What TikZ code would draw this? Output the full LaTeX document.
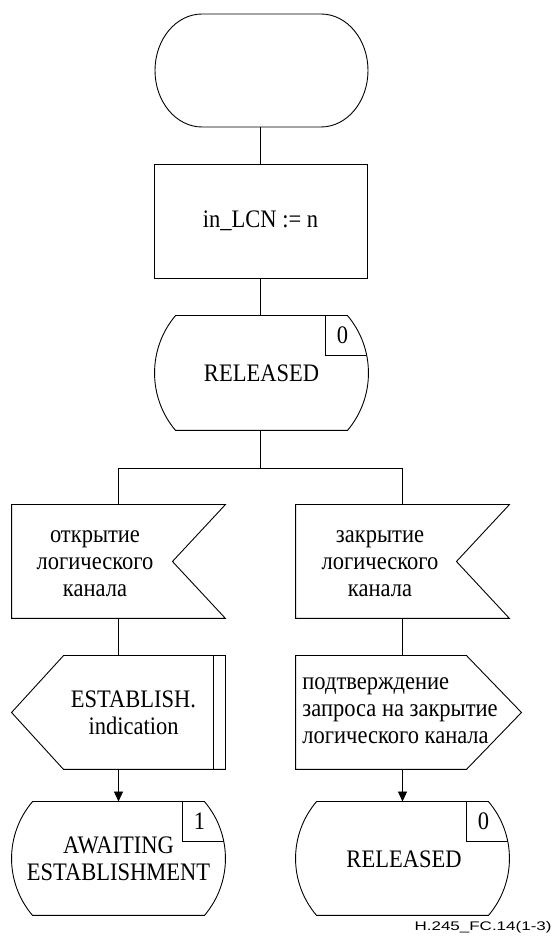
\documentclass[tikz,border=0pt]{standalone}
\usepackage{fontspec}
\setmainfont{Liberation Serif}[FakeStretch=0.893]
\newfontfamily\capfont{Liberation Sans}[FakeStretch=1.36]
\usetikzlibrary{calc,arrows.meta}
\newcommand\statepath[1]{($(#1.north west)+(21,0)$) -- ($(#1.north east)+(-21,0)$) .. controls ($(#1.north east)+(7,-33)$) and ($(#1.south east)+(7,33)$) .. ($(#1.south east)+(-21,0)$) -- ($(#1.south west)+(21,0)$) .. controls ($(#1.south west)+(-7,33)$) and ($(#1.north west)+(-7,-33)$) .. cycle}
\newcommand\statenum[2]{%
  \begin{scope}
    \clip \statepath{#1};
    \draw ($(#1.north east)+(-43,1)$) -- ($(#1.north east)+(-43,-40)$) -- ($(#1.north east)+(5,-40)$);
  \end{scope}
  \node[txt] (#1num) at ($(#1.north east)+(-26,-20)$) {#2};}
\begin{document}
\begin{tikzpicture}[x=1pt,y=1pt,
  line width=0.9pt,
  frame/.style={draw=none,inner sep=0pt,minimum width=213pt,minimum height=113pt},
  txt/.style={inner sep=0pt,align=center,font=\fontsize{25.2}{27}\selectfont},
  arr/.style={-{Triangle[length=10pt,width=9pt]}}]
\useasboundingbox (0,0) rectangle (556,937);

% top terminator
\node[frame] (T) at (260.5,866.5) {};
\draw (202,923) -- (321,923) arc[start angle=90,end angle=-90,x radius=47,y radius=56.5]
  -- (202,810) arc[start angle=270,end angle=90,x radius=47,y radius=56.5] -- cycle;

% task box
\node[frame,draw,minimum height=114pt] (B) at (260.5,716) {};
\node[txt] (Bt) at (B.center) {in\_LCN := n};

% state RELEASED
\node[frame,minimum height=114pt] (S1) at (261.5,564) {};
\draw \statepath{S1};
\node[txt] (S1t) at (S1.center) {RELEASED};
\statenum{S1}{0}

% branch bar
\coordinate (bar) at (260.5,469);

% inputs
\node[frame] (I1) at (118.5,375.5) {};
\draw (I1.north west) -- (I1.north east) -- ($(I1.east)+(-53,0)$) -- (I1.south east) -- (I1.south west) -- cycle;
\node[txt] (I1t) at (95,373) {открытие\\логического\\канала};

\node[frame] (I2) at (402.5,375.5) {};
\draw (I2.north west) -- (I2.north east) -- ($(I2.east)+(-53,0)$) -- (I2.south east) -- (I2.south west) -- cycle;
\node[txt] (I2t) at (380,373) {закрытие\\логического\\канала};

% outputs
\node[frame] (O1) at (118.5,224.5) {};
\draw (O1.west) -- ($(O1.north west)+(52,0)$) -- (O1.north east) -- (O1.south east) -- ($(O1.south west)+(52,0)$) -- cycle;
\draw ($(O1.north east)+(-12,0)$) -- ($(O1.south east)+(-12,0)$);
\node[txt] (O1t) at (133.5,224) {ESTABLISH.\\indication};

\node[frame,minimum width=225pt] (O2) at (408.5,224.5) {};
\draw (O2.north west) -- ($(O2.north east)+(-55,0)$) -- (O2.east) -- ($(O2.south east)+(-55,0)$) -- (O2.south west) -- cycle;
\node[txt,align=left,anchor=west] (O2t) at (302,226) {подтверждение\\запроса на закрытие\\логического канала};

% final states
\node[frame] (S2) at (118.5,78.5) {};
\draw \statepath{S2};
\node[txt] (S2t) at (118.5,78) {AWAITING\\ESTABLISHMENT};
\statenum{S2}{1}

\node[frame] (S3) at (402.5,78.5) {};
\draw \statepath{S3};
\node[txt] (S3t) at (404,78) {RELEASED};
\statenum{S3}{0}

% connectors
\draw (T.south) -- (B.north);
\draw (B.south) -- (S1.north -| B.south);
\draw (S1.south -| B.south) -- (bar);
\draw (I1.north) -- (I1.north |- bar) -- (I2.north |- bar) -- (I2.north);
\draw (I1.south) -- (O1.north);
\draw (I2.south) -- (I2.south |- O2.north);
\draw[arr] (O1.south) -- (S2.north);
\draw[arr] (O2.south -| I2.south) -- (S3.north);

% caption
\node[anchor=east,inner sep=0pt,font=\capfont\fontsize{12.5}{14}\selectfont] (cap) at (552,10) {H.245\_FC.14(1-3)};
\end{tikzpicture}
\end{document}
